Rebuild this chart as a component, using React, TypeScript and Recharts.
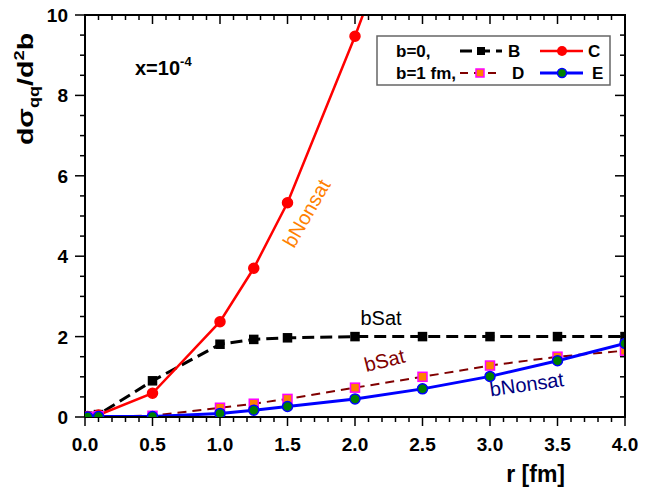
import React from "react";
import { LineChart, Line, XAxis, YAxis } from "recharts";

// r [fm]
const r = [0.02, 0.1, 0.5, 1.0, 1.25, 1.5, 2.0, 2.5, 3.0, 3.5, 4.0];
// b=0
const seriesB = [0.02, 0.06, 0.9, 1.81, 1.93, 1.97, 2.0, 2.0, 2.0, 2.0, 2.0];
const seriesC = [0.01, 0.05, 0.59, 2.37, 3.7, 5.33, 9.47, 14.0, null, null, null];
// b=1 fm
const seriesD = [0.0, 0.02, 0.03, 0.23, 0.33, 0.45, 0.73, 1.0, 1.28, 1.5, 1.65];
const seriesE = [0.0, 0.01, 0.01, 0.09, 0.17, 0.26, 0.45, 0.7, 1.01, 1.4, 1.83];

const xTicks = Array.from({ length: 41 }, (_, i) => i / 10);
const yTicks = Array.from({ length: 21 }, (_, i) => i / 2);

const data = r.map((v, i) => ({
  r: v,
  B: seriesB[i],
  C: seriesC[i],
  D: seriesD[i],
  E: seriesE[i],
}));

const FONT = "'Liberation Sans', Arial, sans-serif";
const W = 654;
const H = 488;
const M = { top: 15, right: 29, left: 0, bottom: 0 };
const Y_AXIS_W = 85;
const X_AXIS_H = 71;
const X_MAX = 4;
const Y_MAX = 10;

// plot box, same numbers the chart gets through margin / axis sizes
const PL = M.left + Y_AXIS_W;
const PR = W - M.right;
const PT = M.top;
const PB = H - M.bottom - X_AXIS_H;

const isMajorX = (v: number) => Math.abs(v * 2 - Math.round(v * 2)) < 1e-6;
const isMajorY = (v: number) => Math.abs(v / 2 - Math.round(v / 2)) < 1e-6;

const BottomTick = (props: any) => {
  const { x, y, payload } = props;
  const major = isMajorX(payload.value);
  return (
    <g>
      <line x1={x} x2={x} y1={y} y2={y + (major ? 9 : 5)} stroke="#000" strokeWidth={1.5} />
      {major && (
        <text x={x} y={y + 34} textAnchor="middle" fontFamily={FONT} fontWeight="bold" fontSize={19} fill="#000">
          {payload.value.toFixed(1)}
        </text>
      )}
    </g>
  );
};

const LeftTick = (props: any) => {
  const { x, y, payload } = props;
  const major = isMajorY(payload.value);
  return (
    <g>
      <line x1={x} x2={x - (major ? 10 : 5)} y1={y} y2={y} stroke="#000" strokeWidth={1.5} />
      {major && (
        <text x={x - 17} y={y + 7} textAnchor="end" fontFamily={FONT} fontWeight="bold" fontSize={19} fill="#000">
          {payload.value}
        </text>
      )}
    </g>
  );
};

const square = (fill: string, stroke: string, size: number) => (props: any) => {
  const { cx, cy, index } = props;
  if (cx == null || cy == null) return <g key={index} />;
  return (
    <rect key={index} x={cx - size / 2} y={cy - size / 2} width={size} height={size} fill={fill} stroke={stroke} strokeWidth={1.5} />
  );
};

const circle = (fill: string, stroke: string, rad: number) => (props: any) => {
  const { cx, cy, index } = props;
  if (cx == null || cy == null) return <g key={index} />;
  return <circle key={index} cx={cx} cy={cy} r={rad} fill={fill} stroke={stroke} strokeWidth={1.5} />;
};

// top and right side of the frame, ticks pointing inward (separate svg laid over the chart)
const FrameOverlay = () => (
  <svg width={W} height={H} style={{ position: "absolute", left: 0, top: 0, pointerEvents: "none" }}>
    <path d={`M${PL - 1},${PT} H${PR} V${PB + 1}`} fill="none" stroke="#000" strokeWidth={2} />
    {xTicks.map((v) => {
      const x = PL + (v / X_MAX) * (PR - PL);
      return <path key={`tx${v}`} d={`M${x},${PT} V${PT + (isMajorX(v) ? 9 : 5)}`} stroke="#000" strokeWidth={1.5} />;
    })}
    {yTicks.map((v) => {
      const y = PB - (v / Y_MAX) * (PB - PT);
      return <path key={`ty${v}`} d={`M${PR},${y} H${PR - (isMajorY(v) ? 10 : 5)}`} stroke="#000" strokeWidth={1.5} />;
    })}
  </svg>
);

const Overlay = () => (
  <g fontFamily={FONT}>
    <text transform="translate(33,89) rotate(-90) scale(1.3,1)" textAnchor="middle" fontWeight="bold" fontSize={22} fill="#000">
      dσ<tspan dy={6} fontSize={14}>qq</tspan>
      <tspan dy={-6}>/d</tspan>
      <tspan dy={-9} fontSize={14}>2</tspan>
      <tspan dy={9}>b</tspan>
    </text>
    <text x={135} y={75} fontWeight="bold" fontSize={20} fill="#000">
      x=10<tspan dy={-9} fontSize={13}>-4</tspan>
    </text>
    <text x={565} y={482} textAnchor="end" fontWeight="bold" fontSize={23} fill="#000">r [fm]</text>
    <text transform="translate(308,214) rotate(-60)" textAnchor="middle" dominantBaseline="middle" fontSize={20} fill="#ff8000">bNonsat</text>
    <text x={381} y={325} textAnchor="middle" fontSize={20} fill="#000">bSat</text>
    <text transform="translate(385,362) rotate(-14)" textAnchor="middle" dominantBaseline="middle" fontSize={20} fill="#800000">bSat</text>
    <text transform="translate(527,386) rotate(-8)" textAnchor="middle" dominantBaseline="middle" fontSize={20} fill="#000080">bNonsat</text>

    {/* legend */}
    <g fontWeight="bold" fontSize={17}>
      <rect x={377} y={36} width={233} height={49} fill="#fff" stroke="#666" strokeWidth={1.5} />
      <text x={396} y={57}>b=0,</text>
      <line x1={460} x2={502} y1={51} y2={51} stroke="#000" strokeWidth={3} strokeDasharray="12 6" />
      <rect x={477} y={47} width={8} height={8} fill="#000" />
      <text x={508} y={57}>B</text>
      <line x1={540} x2={583} y1={51} y2={51} stroke="#ff0000" strokeWidth={2.5} />
      <circle cx={562} cy={51} r={5} fill="#ff0000" />
      <text x={588} y={57}>C</text>
      <text x={396} y={79}>b=1 fm,</text>
      <line x1={460} x2={500} y1={73} y2={73} stroke="#800000" strokeWidth={2} strokeDasharray="8 6" />
      <rect x={476} y={69} width={8} height={8} fill="#ff8000" stroke="#ff00ff" strokeWidth={1.5} />
      <text x={512} y={79}>D</text>
      <line x1={540} x2={583} y1={73} y2={73} stroke="#0000ff" strokeWidth={3} />
      <circle cx={562} cy={73} r={4.5} fill="#008000" stroke="#0000ff" strokeWidth={1.5} />
      <text x={592} y={79}>E</text>
    </g>
  </g>
);

export default function App() {
  return (
    <div style={{ position: "absolute", left: 0, top: 0, width: W, height: H, background: "#fff" }}>
      <LineChart width={W} height={H} data={data} margin={M}>
        <XAxis
          dataKey="r"
          type="number"
          domain={[0, X_MAX]}
          ticks={xTicks}
          interval={0}
          allowDataOverflow
          height={X_AXIS_H}
          tickSize={0}
          tickMargin={0}
          tickLine={false}
          axisLine={{ stroke: "#000", strokeWidth: 2 }}
          tick={<BottomTick />}
        />
        <YAxis
          type="number"
          domain={[0, Y_MAX]}
          ticks={yTicks}
          interval={0}
          allowDataOverflow
          width={Y_AXIS_W}
          tickSize={0}
          tickMargin={0}
          tickLine={false}
          axisLine={{ stroke: "#000", strokeWidth: 2 }}
          tick={<LeftTick />}
        />
        <Line
          dataKey="B"
          stroke="#000"
          strokeWidth={3}
          strokeDasharray="12 6"
          dot={square("#000", "#000", 8)}
          isAnimationActive={false}
        />
        <Line
          dataKey="C"
          stroke="#ff0000"
          strokeWidth={2.5}
          dot={circle("#ff0000", "#ff0000", 5)}
          isAnimationActive={false}
        />
        <Line
          dataKey="D"
          stroke="#800000"
          strokeWidth={2}
          strokeDasharray="9 6"
          dot={square("#ff8000", "#ff00ff", 9)}
          isAnimationActive={false}
        />
        <Line
          dataKey="E"
          stroke="#0000ff"
          strokeWidth={3}
          dot={circle("#008000", "#0000ff", 5)}
          isAnimationActive={false}
        />
        <Overlay />
      </LineChart>
      <FrameOverlay />
    </div>
  );
}
